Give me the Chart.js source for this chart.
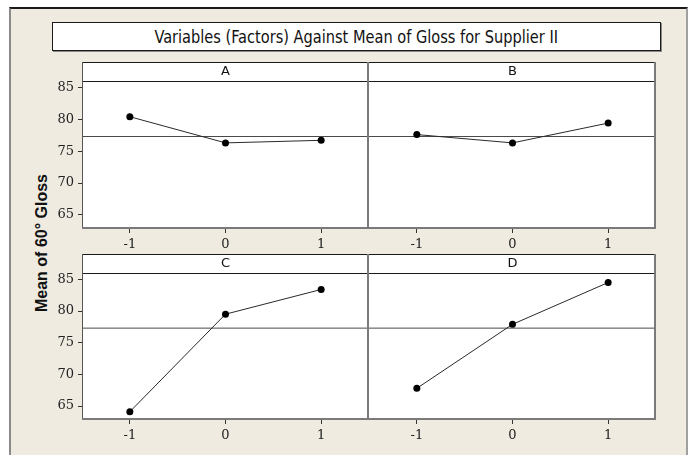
<!DOCTYPE html>
<html>
<head>
<meta charset="utf-8">
<script src="https://cdn.jsdelivr.net/npm/chart.js@4/dist/chart.umd.min.js"></script>
<style>
  html, body { margin:0; padding:0; background:#ffffff; }
  #page { position:relative; width:692px; height:455px; overflow:hidden; background:#ffffff; }
  #frame { position:absolute; left:9px; top:7px; width:675px; height:460px; background:#efebe1;
           border-top:2px solid #1a1a1a; border-left:2px solid #8a8a8a; border-right:2px solid #a0a0a0; }
  #title { position:absolute; left:52px; top:22px; width:607px; height:27px; background:#fff;
           border:1px solid #1a1a1a; box-shadow:1px 1px 0 #8a8a8a;
           font-family:'Liberation Sans Narrow','DejaVu Sans Condensed','Liberation Sans',sans-serif;
           font-size:18px; line-height:27px; text-align:center; color:#111; }
  #title span { display:inline-block; transform:scaleX(0.9); transform-origin:50% 50%; }
  #ylab { position:absolute; left:42px; top:243px; transform:translate(-50%,-50%) rotate(-90deg);
          white-space:nowrap; font-family:'Liberation Sans',Arial,sans-serif; font-weight:bold;
          font-size:16px; color:#111; }
  canvas { position:absolute; left:0; top:0; }
</style>
</head>
<body>
<div id="page">
  <div id="frame"></div>
  <div id="title"><span>Variables (Factors) Against Mean of Gloss for Supplier II</span></div>
  <div id="ylab">Mean of 60° Gloss</div>
  <canvas id="c0" width="692" height="455"></canvas>
  <canvas id="c1" width="692" height="455"></canvas>
  <canvas id="c2" width="692" height="455"></canvas>
  <canvas id="c3" width="692" height="455"></canvas>
</div>
<script>
// ---- data ----
const levels = [-1, 0, 1];
const factorNames = ['A', 'B', 'C', 'D'];
const meanA = [80.4, 76.3, 76.7];
const meanB = [77.6, 76.3, 79.4];
const meanC = [64.1, 79.5, 83.4];
const meanD = [67.8, 77.9, 84.5];
const overallMean = 77.3;
const yTicks = [65, 70, 75, 80, 85];
const xTicks = [-1, 0, 1];
const yMin = 62.8, yMax = 86.0;
const xMin = -1.5, xMax = 1.5;

// ---- layout ----
const W = 692, H = 455;
const panelValues = [meanA, meanB, meanC, meanD];
const panelBoxes = [
  { x0: 82,  x1: 369, y0: 81,  y1: 229, showY: true },
  { x0: 369, x1: 656, y0: 81,  y1: 229, showY: false },
  { x0: 82,  x1: 369, y0: 273, y1: 420, showY: true },
  { x0: 369, x1: 656, y0: 273, y1: 420, showY: false }
];
const Y_AXIS_W = 40, X_AXIS_H = 30, HEADER_H = 19;

Chart.defaults.font.family = "'DejaVu Serif', serif";
Chart.defaults.font.size = 13;
Chart.defaults.color = '#222';

const panelPlugin = {
  id: 'panelFrame',
  beforeDraw(chart, args, opts) {
    const a = chart.chartArea, ctx = chart.ctx;
    ctx.save();
    ctx.fillStyle = '#ffffff';
    ctx.fillRect(a.left, a.top - HEADER_H, a.right - a.left, a.bottom - a.top + HEADER_H);
    ctx.restore();
  },
  afterDraw(chart, args, opts) {
    const a = chart.chartArea, ctx = chart.ctx;
    ctx.save();
    // header strip
    ctx.strokeStyle = '#1a1a1a';
    ctx.lineWidth = 1;
    ctx.beginPath();
    ctx.moveTo(a.left, a.top - HEADER_H + 0.5); ctx.lineTo(a.right, a.top - HEADER_H + 0.5);
    ctx.moveTo(a.left, a.top + 0.5); ctx.lineTo(a.right, a.top + 0.5);
    ctx.stroke();
    // left side (only outer panels)
    if (opts.outerLeft) {
      ctx.strokeStyle = '#555';
      ctx.beginPath();
      ctx.moveTo(a.left + 0.5, a.top - HEADER_H); ctx.lineTo(a.left + 0.5, a.bottom);
      ctx.stroke();
    }
    ctx.strokeStyle = '#7a7a7a';
    ctx.lineWidth = 2;
    ctx.beginPath();
    ctx.moveTo(a.right - 1, a.top - HEADER_H); ctx.lineTo(a.right - 1, a.bottom);
    ctx.moveTo(a.left, a.bottom - 1); ctx.lineTo(a.right, a.bottom - 1);
    ctx.stroke();
    // header label
    ctx.fillStyle = '#111';
    ctx.font = "13px 'DejaVu Sans', sans-serif";
    ctx.textAlign = 'center';
    ctx.textBaseline = 'middle';
    ctx.fillText(opts.label, (a.left + a.right) / 2, a.top - HEADER_H / 2 + 0.5);
    ctx.restore();
  }
};

panelBoxes.forEach((p, i) => {
  const vals = panelValues[i];
  new Chart(document.getElementById('c' + i), {
    type: 'line',
    data: {
      datasets: [
        {
          data: [{ x: xMin, y: overallMean }, { x: xMax, y: overallMean }],
          borderColor: '#4a4a4a', borderWidth: 1, pointRadius: 0, order: 2
        },
        {
          data: levels.map((l, k) => ({ x: l, y: vals[k] })),
          borderColor: '#2a2a2a', borderWidth: 1, pointRadius: 3.5,
          pointBackgroundColor: '#000', pointBorderColor: '#000', pointBorderWidth: 0, order: 1
        }
      ]
    },
    options: {
      responsive: false, animation: false, devicePixelRatio: 1,
      layout: { padding: {
        left: p.showY ? p.x0 - Y_AXIS_W : p.x0,
        right: W - p.x1,
        top: p.y0,
        bottom: H - p.y1 - X_AXIS_H
      } },
      plugins: { legend: { display: false }, tooltip: { enabled: false },
                 panelFrame: { label: factorNames[i], outerLeft: p.showY } },
      scales: {
        x: {
          type: 'linear', min: xMin, max: xMax,
          afterBuildTicks: s => { s.ticks = xTicks.map(v => ({ value: v })); },
          afterFit: s => { s.height = X_AXIS_H; },
          grid: { drawOnChartArea: false, drawTicks: true, tickLength: 4, color: '#333' },
          border: { display: false },
          ticks: { padding: 4, color: '#222', font: { size: 13 } }
        },
        y: {
          type: 'linear', min: yMin, max: yMax, display: p.showY,
          afterBuildTicks: s => { s.ticks = yTicks.map(v => ({ value: v })); },
          afterFit: s => { if (p.showY) s.width = Y_AXIS_W; },
          grid: { drawOnChartArea: false, drawTicks: true, tickLength: 4, color: '#333' },
          border: { display: false },
          ticks: { padding: 4, color: '#222', font: { size: 13 } }
        }
      }
    },
    plugins: [panelPlugin]
  });
});
</script>
</body>
</html>
